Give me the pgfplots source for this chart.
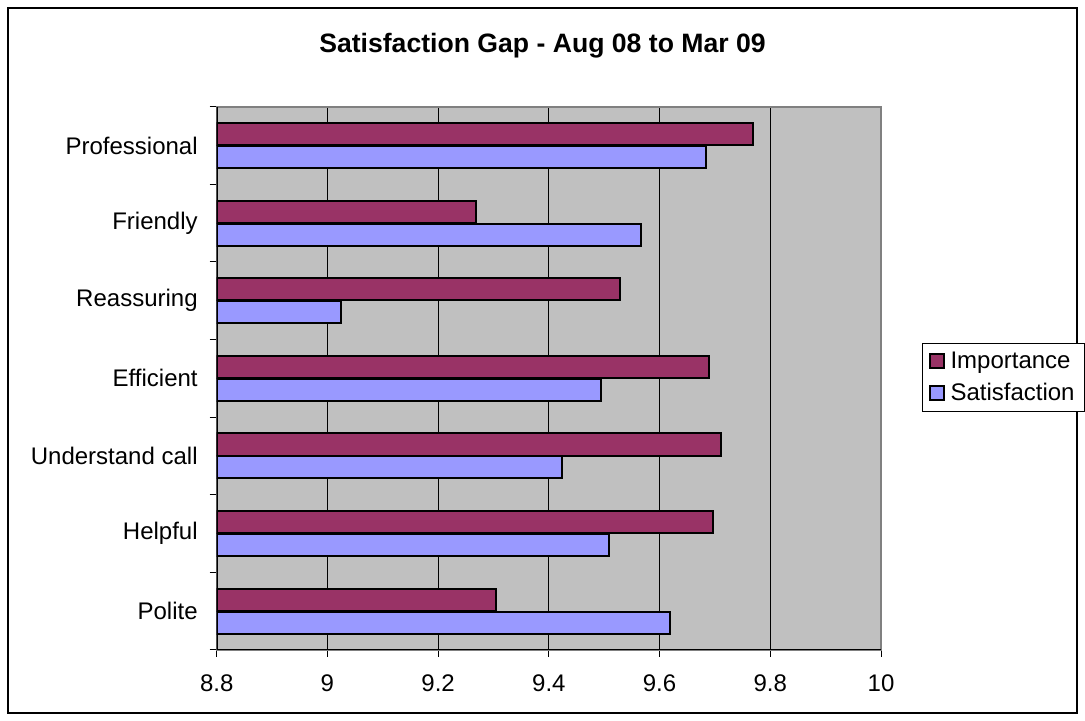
\documentclass[border=0pt]{standalone}
\usepackage{fontspec}
\setmainfont{Liberation Sans}
\usepackage{pgfplots}
\pgfplotsset{compat=1.18}
\definecolor{impc}{RGB}{153,51,102}
\definecolor{satc}{RGB}{153,153,255}
\definecolor{plotbg}{RGB}{192,192,192}
\definecolor{bordergray}{RGB}{128,128,128}
\begin{document}
\begin{tikzpicture}
\useasboundingbox (0,0) rectangle (542.5pt,360.5pt);
\draw[black, line width=0.6pt] (4pt,4pt) rectangle (538.5pt,356.5pt);
\node[anchor=base, font=\bfseries\fontsize{13.3}{16}\selectfont] at (271.25pt,334pt) {Satisfaction Gap - Aug 08 to Mar 09};
\begin{axis}[
  at={(108.35pt,35.5pt)}, anchor=south west,
  scale only axis,
  width=332.15pt, height=271.65pt,
  xbar,
  bar width=0.285,
  xmin=8.8, xmax=10,
  ymin=-0.5, ymax=6.5,
  xtick={8.8,9,9.2,9.4,9.6,9.8,10},
  xticklabels={8.8,9,9.2,9.4,9.6,9.8,10},
  ytick={-0.5,0.5,1.5,2.5,3.5,4.5,5.5,6.5},
  yticklabels={},
  extra y ticks={0,1,2,3,4,5,6},
  extra y tick labels={Polite,Helpful,Understand call,Efficient,Reassuring,Friendly,Professional},
  extra y tick style={major tick length=0pt, yticklabel style={xshift=-6pt}},
  xtick pos=left, ytick pos=left,
  tick align=outside,
  major tick length=3.5pt,
  tick style={black, line width=0.5pt},
  xmajorgrids,
  grid style={black, line width=0.5pt},
  axis background/.style={fill=plotbg},
  axis line style={draw=bordergray, line width=1pt},
  tick label style={font=\fontsize{12}{14}\selectfont},
  xticklabel style={yshift=-5.5pt},
  /pgf/number format/assume math mode=true,
  legend style={at={(axis description cs:1.0617,0.5016)}, anchor=west,
    draw=black, line width=0.5pt, font=\fontsize{12}{14}\selectfont,
    row sep=2pt, inner xsep=3pt, inner ysep=2pt, cells={anchor=west}},
  legend image code/.code={\draw[#1, line width=1pt] (0pt,-3.5pt) rectangle (7pt,3.5pt); \path (8pt,0pt);},
]
\addplot[fill=impc, draw=black, line width=1pt, bar shift=0.1475] coordinates {
  (9.305,0) (9.696,1) (9.711,2) (9.690,3) (9.529,4) (9.269,5) (9.769,6)
};
\addlegendentry{Importance}
\addplot[fill=satc, draw=black, line width=1pt, bar shift=-0.1475] coordinates {
  (9.619,0) (9.509,1) (9.423,2) (9.494,3) (9.025,4) (9.566,5) (9.683,6)
};
\addlegendentry{Satisfaction}
\draw[black, line width=0.8pt] (rel axis cs:0,1) -- (rel axis cs:0,0) -- (rel axis cs:1,0);
\end{axis}
\end{tikzpicture}
\end{document}
